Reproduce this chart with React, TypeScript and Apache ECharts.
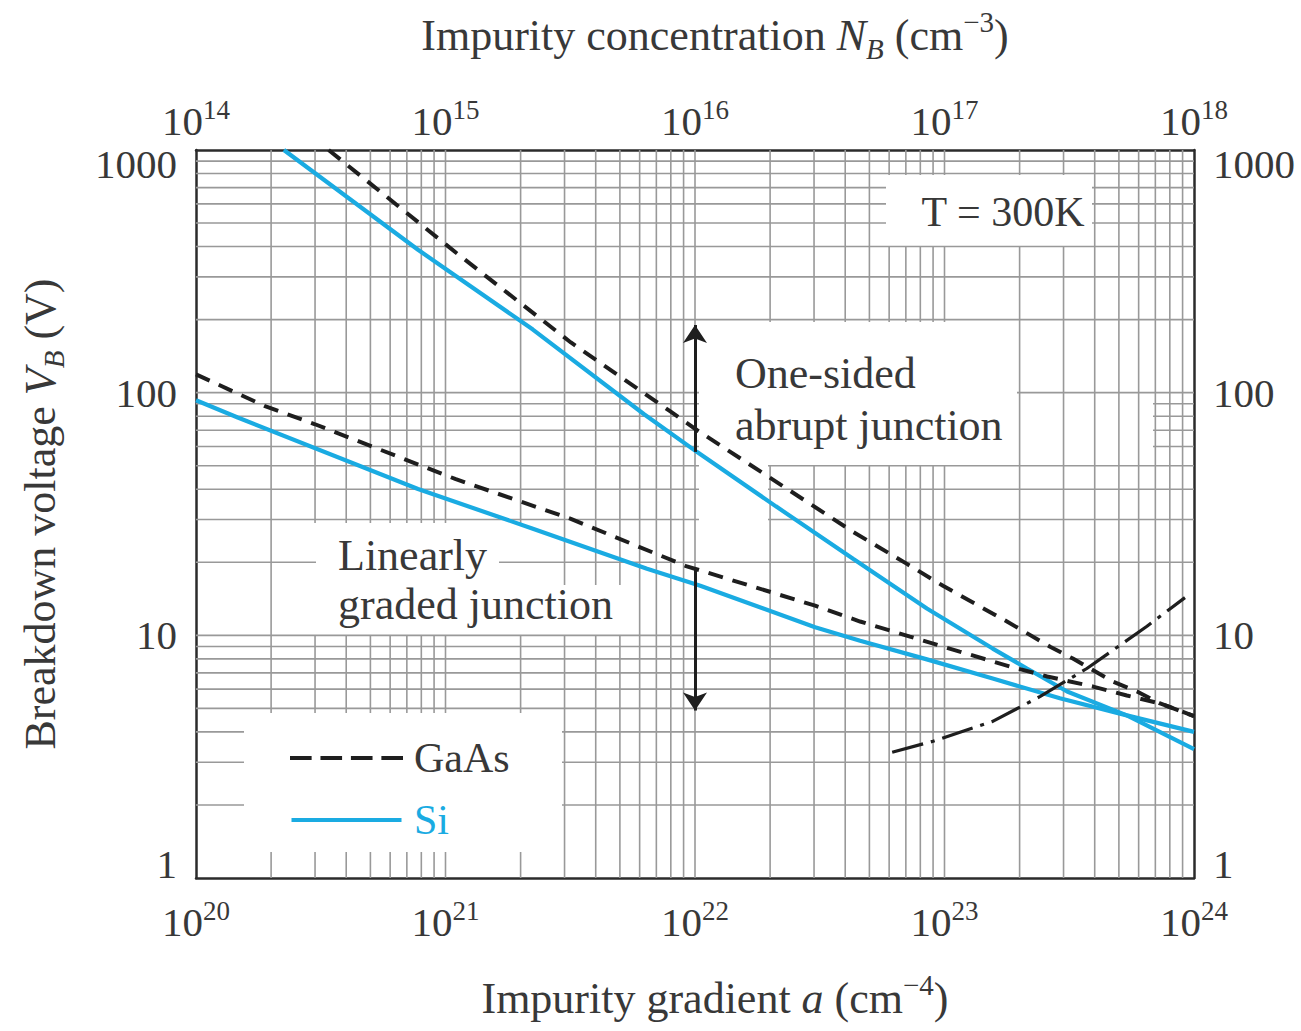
import React, { useEffect, useRef } from "react";
import * as echarts from "echarts";

// ---------- data ----------
// One-sided abrupt junctions, plotted against impurity concentration N_B (cm^-3), top axis
const siAbruptN = [2.25e14, 7.76e14, 2.24e15, 6.25e15, 1.02e16, 2.11e16, 4.3e16, 8.5e16, 1.56e17, 2.14e17, 3.1e17, 5.38e17, 1e18];
const siAbruptV = [1000, 388, 182, 81.5, 56.9, 34, 20.7, 12.9, 8.82, 7.3, 5.87, 4.68, 3.4];
const gaasAbruptN = [3.4e14, 1.1e15, 3.18e15, 7.94e15, 1.02e16, 4.3e16, 7.07e16, 9.86e16, 1.78e17, 2.65e17, 3.27e17, 4.73e17, 5.91e17, 7.31e17, 1e18];
const gaasAbruptV = [1000, 378, 161, 83.9, 70, 26.7, 19.7, 16.0, 11.4, 8.98, 8.02, 6.45, 5.87, 5.24, 4.65];
// Linearly graded junctions, plotted against impurity gradient a (cm^-4), bottom axis
const siLinearA = [1e20, 1.47e20, 7.76e20, 2.24e21, 6.42e21, 1.05e22, 3.03e22, 4.59e22, 8.5e22, 1.56e23, 2.9e23, 5.38e23, 1e24];
const siLinearV = [93, 79, 40.1, 27.5, 18.8, 16.0, 10.8, 9.5, 7.96, 6.64, 5.5, 4.68, 4.0];
const gaasLinearA = [1e20, 1.89e20, 3.0e20, 1.1e21, 3.18e21, 9.2e21, 3.03e22, 4.59e22, 7.27e22, 1.15e23, 1.83e23, 2.58e23, 3.94e23, 5.38e23, 7.31e23, 1e24];
const gaasLinearV = [119, 88, 74.1, 44, 30.2, 19.3, 13.25, 11.4, 9.88, 8.57, 7.44, 6.77, 6.15, 5.65, 5.24, 4.65];
// Dash-dot limit curve (top axis N_B)
const limitN = [6.17e16, 8.99e16, 1.56e17, 2.42e17, 3.72e17, 6.48e17, 9.2e17];
const limitV = [3.3, 3.66, 4.42, 5.6, 7.3, 10.9, 14.3];
// Arrows: [x, fromV, toV]
const abruptArrow = [1e16, 57, 190];
const linearArrow = [1e22, 18.8, 4.9];

// tick labels
const bottomTickExp = ["20", "21", "22", "23", "24"];
const topTickExp = ["14", "15", "16", "17", "18"];
const yTickLabels = ["1", "10", "100", "1000"];

// ---------- styles / layout ----------
const FONT = '"Liberation Serif", "Times New Roman", "DejaVu Serif", serif';
const TEXT = "#383838";
const SI_BLUE = "#1aabe2";
const BLACK = "#1e1e1e";
const GRID_GRAY = "#999999";
const AXIS_DARK = "#2b2b2b";

const DASH_ICON = "path://M0,0h22v4h-22z M31,0h22v4h-22z M62,0h22v4h-22z M93,0h22v4h-22z";
const SOLID_ICON = "path://M0,0h110v4h-110z";

// white label backgrounds: gridlines are interrupted inside these pixel boxes
const LABEL_BOXES = [
  { x1: 886, x2: 1092, y1: 175, y2: 246, cut: "hv" },
  { x1: 699, x2: 1017, y1: 322, y2: 465, cut: "hv" },
  { x1: 1017, x2: 1153, y1: 400, y2: 450, cut: "h" },
  { x1: 699, x2: 768, y1: 465, y2: 530, cut: "h" },
  { x1: 274, x2: 562, y1: 523, y2: 635, cut: "v" },
  { x1: 562, x2: 628, y1: 585, y2: 635, cut: "v" },
  { x1: 316, x2: 499, y1: 540, y2: 590, cut: "h" },
  { x1: 244, x2: 562, y1: 713, y2: 852, cut: "hv" },
];

function buildGridLines(): number[][] {
  const lines: number[][] = [];
  for (let k = 20; k < 24; k++)
    for (let m = 1; m <= 9; m++) {
      if (k === 20 && m === 1) continue;
      const a = m * Math.pow(10, k);
      lines.push([a, 1, a, 1000]);
    }
  for (let k = 0; k < 3; k++)
    for (let m = 1; m <= 9; m++) {
      if (k === 0 && m === 1) continue;
      const v = m * Math.pow(10, k);
      lines.push([1e20, v, 1e24, v]);
    }
  return lines;
}

function subtract(lo: number, hi: number, gaps: number[][]): number[][] {
  const g = gaps.slice().sort((p, q) => p[0] - q[0]);
  const out: number[][] = [];
  let cur = lo;
  for (const [a, b] of g) {
    if (b <= cur) continue;
    if (a >= hi) break;
    if (a > cur) out.push([cur, a]);
    cur = Math.max(cur, b);
  }
  if (cur < hi) out.push([cur, hi]);
  return out;
}

const zip = (xs: number[], ys: number[]) => xs.map((x, i) => [x, ys[i]]);

const expIndex = (v: number, base: number) => Math.round(Math.log10(v)) - base;

function buildOption(): any {
  const tickRich = {
    b: { fontSize: 41, fontFamily: FONT, color: TEXT, lineHeight: 50 },
    s: { fontSize: 27, fontFamily: FONT, color: TEXT, lineHeight: 27, verticalAlign: "top" },
  };
  const nameRich = {
    i: { fontSize: 44, fontFamily: FONT, color: TEXT, fontStyle: "italic", lineHeight: 56 },
    sub: { fontSize: 29, fontFamily: FONT, color: TEXT, fontStyle: "italic", lineHeight: 28, verticalAlign: "bottom" },
    sup: { fontSize: 29, fontFamily: FONT, color: TEXT, lineHeight: 28, verticalAlign: "top" },
  };
  const nameStyle = { fontSize: 44, fontFamily: FONT, color: TEXT, lineHeight: 56, rich: nameRich };
  const hNameStyle = { ...nameStyle, padding: [0, 0, 0, 40] };
  const axisLine = { show: true, onZero: false, lineStyle: { color: AXIS_DARK, width: 2.5 } };
  const yLabel = {
    margin: 19,
    fontSize: 41,
    fontFamily: FONT,
    color: TEXT,
    lineHeight: 28,
    showMinLabel: true,
    showMaxLabel: true,
    verticalAlignMinLabel: "bottom",
    verticalAlignMaxLabel: "top",
    formatter: (v: number) => yTickLabels[expIndex(v, 0)] ?? "",
  };

  const lineBase = { type: "line", symbol: "none", showSymbol: false, smooth: false, z: 4, silent: true };

  return {
    animation: false,
    backgroundColor: "#ffffff",
    grid: { left: 196, top: 150, right: 107, bottom: 151, containLabel: false },
    legend: {
      data: [
        { name: "GaAs", icon: DASH_ICON, itemStyle: { color: BLACK }, textStyle: { color: TEXT } },
        { name: "Si", icon: SOLID_ICON, itemStyle: { color: SI_BLUE }, textStyle: { color: SI_BLUE } },
      ],
      orient: "vertical",
      left: 285,
      top: 732,
      itemWidth: 113,
      itemHeight: 4,
      itemGap: 20,
      selectedMode: false,
      textStyle: { fontFamily: FONT, fontSize: 42, lineHeight: 40, padding: [0, 0, 0, 6] },
    },
    xAxis: [
      {
        type: "log",
        logBase: 10,
        min: 1e20,
        max: 1e24,
        position: "bottom",
        axisLine,
        axisTick: { show: false },
        splitLine: { show: false },
        axisLabel: {
          margin: 19,
          showMinLabel: true,
          showMaxLabel: true,
          formatter: (v: number) => `{b|10}{s|${bottomTickExp[expIndex(v, 20)] ?? ""}}`,
          rich: tickRich,
        },
        name: "Impurity gradient {i|a} (cm{sup|−4})",
        nameLocation: "middle",
        nameGap: 92,
        nameTextStyle: hNameStyle,
      },
      {
        type: "log",
        logBase: 10,
        min: 1e14,
        max: 1e18,
        position: "top",
        axisLine,
        axisTick: { show: false },
        splitLine: { show: false },
        axisLabel: {
          margin: 4,
          showMinLabel: true,
          showMaxLabel: true,
          formatter: (v: number) => `{b|10}{s|${topTickExp[expIndex(v, 14)] ?? ""}}`,
          rich: tickRich,
        },
        name: "Impurity concentration {i|N}{sub|B} (cm{sup|−3})",
        nameLocation: "middle",
        nameGap: 87,
        nameTextStyle: hNameStyle,
      },
    ],
    yAxis: [
      {
        type: "log",
        logBase: 10,
        min: 1,
        max: 1000,
        position: "left",
        axisLine,
        axisTick: { show: false },
        splitLine: { show: false },
        axisLabel: yLabel,
        name: "Breakdown voltage {i|V}{sub|B} (V)",
        nameLocation: "middle",
        nameRotate: 90,
        nameGap: 128,
        nameTextStyle: nameStyle,
      },
      {
        type: "log",
        logBase: 10,
        min: 1,
        max: 1000,
        position: "right",
        axisLine,
        axisTick: { show: false },
        splitLine: { show: false },
        axisLabel: yLabel,
      },
    ],
    series: [
      {
        type: "custom",
        name: "grid",
        xAxisIndex: 0,
        yAxisIndex: 0,
        silent: true,
        clip: false,
        z: 1,
        encode: { x: [0, 2], y: [1, 3] },
        data: buildGridLines(),
        renderItem: (_params: any, api: any) => {
          const p1 = api.coord([api.value(0), api.value(1)]);
          const p2 = api.coord([api.value(2), api.value(3)]);
          const style = { stroke: GRID_GRAY, lineWidth: 1.6 };
          const vertical = Math.abs(p1[0] - p2[0]) < 1;
          let children: any[];
          if (vertical) {
            const x = p1[0];
            const gaps = LABEL_BOXES.filter((b) => b.cut.includes("v") && x >= b.x1 && x <= b.x2).map((b) => [b.y1, b.y2]);
            children = subtract(Math.min(p1[1], p2[1]), Math.max(p1[1], p2[1]), gaps).map((s) => ({
              type: "line",
              shape: { x1: x, y1: s[0], x2: x, y2: s[1] },
              style,
            }));
          } else {
            const y = p1[1];
            const gaps = LABEL_BOXES.filter((b) => b.cut.includes("h") && y >= b.y1 && y <= b.y2).map((b) => [b.x1, b.x2]);
            children = subtract(Math.min(p1[0], p2[0]), Math.max(p1[0], p2[0]), gaps).map((s) => ({
              type: "line",
              shape: { x1: s[0], y1: y, x2: s[1], y2: y },
              style,
            }));
          }
          return { type: "group", children };
        },
      },
      {
        ...lineBase,
        name: "Si",
        xAxisIndex: 1,
        data: zip(siAbruptN, siAbruptV),
        lineStyle: { color: SI_BLUE, width: 4.2 },
        itemStyle: { color: SI_BLUE },
      },
      {
        ...lineBase,
        name: "Si",
        xAxisIndex: 0,
        data: zip(siLinearA, siLinearV),
        lineStyle: { color: SI_BLUE, width: 4.2 },
        itemStyle: { color: SI_BLUE },
      },
      {
        ...lineBase,
        name: "GaAs",
        xAxisIndex: 1,
        data: zip(gaasAbruptN, gaasAbruptV),
        lineStyle: { color: BLACK, width: 4, type: [15, 10] },
        itemStyle: { color: BLACK },
      },
      {
        ...lineBase,
        name: "GaAs",
        xAxisIndex: 0,
        data: zip(gaasLinearA, gaasLinearV),
        lineStyle: { color: BLACK, width: 4, type: [15, 10] },
        itemStyle: { color: BLACK },
      },
      {
        ...lineBase,
        name: "limit",
        xAxisIndex: 1,
        data: zip(limitN, limitV),
        lineStyle: { color: BLACK, width: 3.2, type: [32, 8, 4, 8] },
        itemStyle: { color: BLACK },
      },
      {
        type: "line",
        name: "abruptArrow",
        xAxisIndex: 1,
        symbol: "none",
        data: [[abruptArrow[0], abruptArrow[1]]],
        lineStyle: { opacity: 0 },
        z: 4,
        markLine: {
          silent: true,
          symbol: ["none", "arrow"],
          symbolSize: 18,
          label: { show: false },
          lineStyle: { color: BLACK, width: 3, type: "solid" },
          data: [[{ coord: [abruptArrow[0], abruptArrow[1]] }, { coord: [abruptArrow[0], abruptArrow[2]] }]],
        },
      },
      {
        type: "line",
        name: "linearArrow",
        xAxisIndex: 0,
        symbol: "none",
        data: [[linearArrow[0], linearArrow[1]]],
        lineStyle: { opacity: 0 },
        z: 4,
        markLine: {
          silent: true,
          symbol: ["none", "arrow"],
          symbolSize: 18,
          label: { show: false },
          lineStyle: { color: BLACK, width: 3, type: "solid" },
          data: [[{ coord: [linearArrow[0], linearArrow[1]] }, { coord: [linearArrow[0], linearArrow[2]] }]],
        },
      },
    ],
    graphic: [
      { type: "text", x: 1003, y: 212, z: 10, style: { text: "T = 300K", fontSize: 42, fontFamily: FONT, fill: TEXT, align: "center", verticalAlign: "middle" } },
      { type: "text", x: 735, y: 373, z: 10, style: { text: "One-sided", fontSize: 44, fontFamily: FONT, fill: TEXT, align: "left", verticalAlign: "middle" } },
      { type: "text", x: 735, y: 425, z: 10, style: { text: "abrupt junction", fontSize: 44, fontFamily: FONT, fill: TEXT, align: "left", verticalAlign: "middle" } },
      { type: "text", x: 338, y: 555, z: 10, style: { text: "Linearly", fontSize: 44, fontFamily: FONT, fill: TEXT, align: "left", verticalAlign: "middle" } },
      { type: "text", x: 338, y: 604, z: 10, style: { text: "graded junction", fontSize: 44, fontFamily: FONT, fill: TEXT, align: "left", verticalAlign: "middle" } },
    ],
  };
}

export default function App() {
  const ref = useRef<HTMLDivElement>(null);
  useEffect(() => {
    if (!ref.current) return;
    const chart = echarts.init(ref.current, null, { renderer: "svg" });
    chart.setOption(buildOption());
    return () => chart.dispose();
  }, []);
  return (
    <div
      ref={ref}
      style={{ position: "fixed", left: 0, top: 0, width: 1301, height: 1031, background: "#ffffff" }}
    />
  );
}
